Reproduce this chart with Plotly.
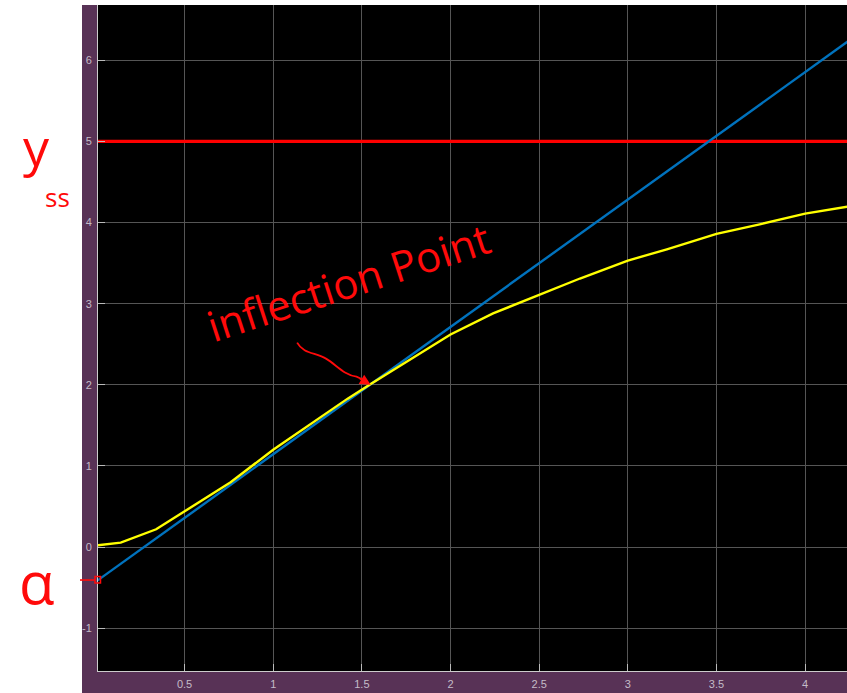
import plotly.graph_objects as go

# Step response samples (time, output)
t_resp = [0.0, 0.14, 0.34, 0.5, 0.76, 1.0, 1.25, 1.42, 1.55, 1.79, 2.0, 2.24,
          2.5, 2.73, 3.0, 3.22, 3.5, 3.75, 4.0, 4.25]
y_resp = [0.02, 0.055, 0.22, 0.44, 0.80, 1.2, 1.58, 1.83, 2.01, 2.34, 2.62, 2.88,
          3.11, 3.31, 3.53, 3.67, 3.86, 3.98, 4.11, 4.2]

# Tangent through the inflection point
t_tan = [0.0, 4.25]
y_tan = [-0.425, 6.245]

# Steady-state level
t_ss = [0.0, 4.25]
y_ss = [5.0, 5.0]

x_ticks = [0.5, 1, 1.5, 2, 2.5, 3, 3.5, 4]
x_tick_text = ["0.5", "1", "1.5", "2", "2.5", "3", "3.5", "4"]
y_ticks = [-1, 0, 1, 2, 3, 4, 5, 6]
y_tick_text = ["-1", "0", "1", "2", "3", "4", "5", "6"]

alpha_val = -0.405
inflect_t, inflect_y = 1.55, 2.0

W, H = 847, 693
ML, MR, MT, MB = 98, 0, 5, 22
PW, PH = W - ML - MR, H - MT - MB

PURPLE = "#583256"
RED = "#ff0a0a"
TICK_COL = "#c4bcc8"


def px(x):
    return (x - ML) / PW


def py(y):
    return (H - MB - y) / PH


fig = go.Figure()
fig.add_trace(go.Scatter(x=t_ss, y=y_ss, mode="lines",
                         line=dict(color="#ff0000", width=3.2), hoverinfo="skip"))
fig.add_trace(go.Scatter(x=t_tan, y=y_tan, mode="lines",
                         line=dict(color="#0072bd", width=2.4), hoverinfo="skip"))
fig.add_trace(go.Scatter(x=t_resp, y=y_resp, mode="lines",
                         line=dict(color="#ffff00", width=2.4), hoverinfo="skip"))

shapes = [
    # white margin on the left and top
    dict(type="rect", xref="paper", yref="paper", x0=px(0), x1=px(82), y0=py(H), y1=py(0),
         fillcolor="white", line=dict(width=0), layer="below"),
    dict(type="rect", xref="paper", yref="paper", x0=px(82), x1=px(W), y0=py(MT), y1=py(0),
         fillcolor="white", line=dict(width=0), layer="below"),
    # marker for the tangent's intercept
    dict(type="line", xref="paper", yref="y", x0=px(80), x1=px(95), y0=alpha_val, y1=alpha_val,
         line=dict(color=RED, width=1.6)),
    dict(type="rect", xref="paper", yref="paper", x0=px(95), x1=px(100.5), y0=py(583), y1=py(576.5),
         line=dict(color=RED, width=1.5)),
    # hand-drawn arrow pointing to the inflection point
    dict(type="path", xref="x", yref="y",
         path="M 1.135,2.52 C 1.17,2.38 1.24,2.40 1.30,2.32 S 1.40,2.12 1.47,2.10 L 1.52,2.05",
         line=dict(color=RED, width=1.8)),
]

annotations = [
    dict(xref="paper", yref="paper", x=px(37), y=py(108), text="y",
         xanchor="center", yanchor="top",
         showarrow=False, font=dict(family="Open Sans", size=52, color=RED)),
    dict(xref="paper", yref="paper", x=px(57), y=py(177), text="ss",
         xanchor="center", yanchor="top",
         showarrow=False, font=dict(family="Open Sans", size=26, color=RED)),
    dict(xref="paper", yref="paper", x=px(36), y=py(623), text="α",
         xanchor="center", yanchor="bottom",
         showarrow=False, font=dict(family="Open Sans", size=58, color=RED)),
    dict(xref="paper", yref="paper", x=px(348), y=py(281), text="inflection Point",
         xanchor="center", yanchor="middle", textangle=-18, showarrow=False,
         font=dict(family="Open Sans", size=42, color=RED)),
    dict(x=inflect_t, y=inflect_y, ax=1.48, ay=2.09, xref="x", yref="y", axref="x", ayref="y",
         text="", showarrow=True, arrowhead=2, arrowsize=1.2, arrowwidth=1.8, arrowcolor=RED),
]

fig.update_layout(
    width=W, height=H,
    margin=dict(l=ML, r=MR, t=MT, b=MB, pad=0),
    paper_bgcolor=PURPLE, plot_bgcolor="black",
    showlegend=False,
    shapes=shapes, annotations=annotations,
    font=dict(family="Liberation Sans", size=11, color=TICK_COL),
)
fig.update_xaxes(range=[0.012, 4.236], tickvals=x_ticks, ticktext=x_tick_text,
                 showgrid=True, gridcolor="#555555", gridwidth=1, zeroline=False,
                 ticks="inside", ticklen=7, tickcolor="#bbbbbb",
                 showline=True, linecolor="#cccccc", linewidth=1,
                 tickfont=dict(size=11, color=TICK_COL), ticklabelstandoff=3)
fig.update_yaxes(range=[-1.526, 6.68], tickvals=y_ticks, ticktext=y_tick_text,
                 showgrid=True, gridcolor="#555555", gridwidth=1, zeroline=False,
                 ticks="inside", ticklen=7, tickcolor="#bbbbbb",
                 showline=True, linecolor="#cccccc", linewidth=1,
                 tickfont=dict(size=11, color=TICK_COL), ticklabelstandoff=3)

fig.write_html("out.html")
